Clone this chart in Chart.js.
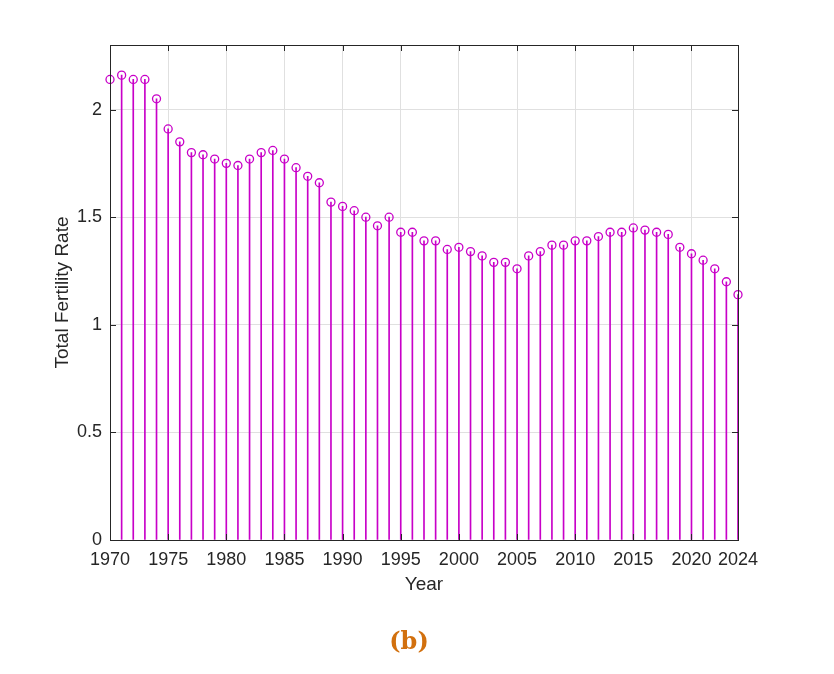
<!DOCTYPE html>
<html>
<head>
<meta charset="utf-8">
<script src="https://cdn.jsdelivr.net/npm/chart.js@4"></script>
<style>
  body { margin: 0; background: #fff; }
  #wrap { position: relative; width: 834px; height: 674px; }
  #tag { position: absolute; left: 0; width: 818px; top: 626px; text-align: center;
         font: bold 24px "DejaVu Serif", "Liberation Serif", serif; color: #d2700e; }
</style>
</head>
<body>
<div id="wrap">
  <canvas id="tfr-chart" width="834" height="674"></canvas>
  <div id="tag">(b)</div>
</div>
<script>
// dados
const years = [1970,1971,1972,1973,1974,1975,1976,1977,1978,1979,1980,1981,1982,1983,1984,1985,1986,1987,1988,1989,
  1990,1991,1992,1993,1994,1995,1996,1997,1998,1999,2000,2001,2002,2003,2004,2005,2006,2007,2008,2009,
  2010,2011,2012,2013,2014,2015,2016,2017,2018,2019,2020,2021,2022,2023,2024];
const tfr = [2.14,2.16,2.14,2.14,2.05,1.91,1.85,1.80,1.79,1.77,1.75,1.74,1.77,1.80,1.81,1.77,1.73,1.69,1.66,1.57,
  1.55,1.53,1.50,1.46,1.50,1.43,1.43,1.39,1.39,1.35,1.36,1.34,1.32,1.29,1.29,1.26,1.32,1.34,1.37,1.37,
  1.39,1.39,1.41,1.43,1.43,1.45,1.44,1.43,1.42,1.36,1.33,1.30,1.26,1.20,1.14];
const xTicks = [1970,1975,1980,1985,1990,1995,2000,2005,2010,2015,2020,2024];
const yTicks = [0,0.5,1,1.5,2];

const points = years.map((y, i) => ({ x: y, y: tfr[i] }));
const stemColor = '#c800c8';
const axisColor = '#262626';

// caixa e marcas internas estilo matlab
const boxPlugin = {
  id: 'box',
  afterDraw(chart) {
    const { ctx, chartArea: a, scales } = chart;
    ctx.save();
    ctx.strokeStyle = axisColor;
    ctx.lineWidth = 1;
    ctx.strokeRect(a.left + 0.5, a.top + 0.5, a.right - a.left, a.bottom - a.top);
    ctx.beginPath();
    xTicks.forEach(v => {
      const px = Math.round(scales.x.getPixelForValue(v)) + 0.5;
      ctx.moveTo(px, a.bottom); ctx.lineTo(px, a.bottom - 6);
      ctx.moveTo(px, a.top); ctx.lineTo(px, a.top + 6);
    });
    yTicks.forEach(v => {
      const py = Math.round(scales.y.getPixelForValue(v)) + 0.5;
      ctx.moveTo(a.left, py); ctx.lineTo(a.left + 6, py);
      ctx.moveTo(a.right, py); ctx.lineTo(a.right - 6, py);
    });
    ctx.stroke();
    ctx.restore();
  }
};

const ctx = document.getElementById('tfr-chart');

new Chart(ctx, {
  data: {
    datasets: [{
      type: 'bar',
      data: points,
      backgroundColor: stemColor,
      barThickness: 1,
      order: 2
    }, {
      type: 'scatter',
      data: points,
      clip: false,
      pointStyle: 'circle',
      pointRadius: 4,
      pointBorderWidth: 1.3,
      pointBackgroundColor: 'rgba(255,255,255,0)',
      pointBorderColor: stemColor,
      order: 1
    }]
  },
  options: {
    responsive: false,
    animation: false,
    layout: { padding: { left: 47, right: 96, top: 45, bottom: 74 } },
    plugins: { legend: { display: false }, tooltip: { enabled: false } },
    scales: {
      x: {
        type: 'linear',
        min: 1970,
        max: 2024,
        offset: false,
        afterBuildTicks: s => { s.ticks = xTicks.map(v => ({ value: v })); },
        afterFit: s => { s.height = 60; },
        grid: { color: '#e0e0e0', drawTicks: false, offset: false },
        border: { display: false },
        ticks: { color: axisColor, font: { family: 'Liberation Sans', size: 18 }, padding: 9, maxRotation: 0, autoSkip: false,
                 callback: v => String(v) },
        title: { display: true, text: 'Year', color: axisColor, font: { family: 'Liberation Sans', size: 19 }, padding: { top: 5 } }
      },
      y: {
        min: 0,
        max: 2.3,
        afterBuildTicks: s => { s.ticks = yTicks.map(v => ({ value: v })); },
        afterFit: s => { s.width = 63; },
        grid: { color: '#e0e0e0', drawTicks: false },
        border: { display: false },
        ticks: { color: axisColor, font: { family: 'Liberation Sans', size: 18 }, padding: 8, callback: v => String(v) },
        title: { display: true, text: 'Total Fertility Rate', color: axisColor, font: { family: 'Liberation Sans', size: 19 }, padding: { bottom: 0 } }
      }
    }
  },
  plugins: [boxPlugin]
});
</script>
</body>
</html>
